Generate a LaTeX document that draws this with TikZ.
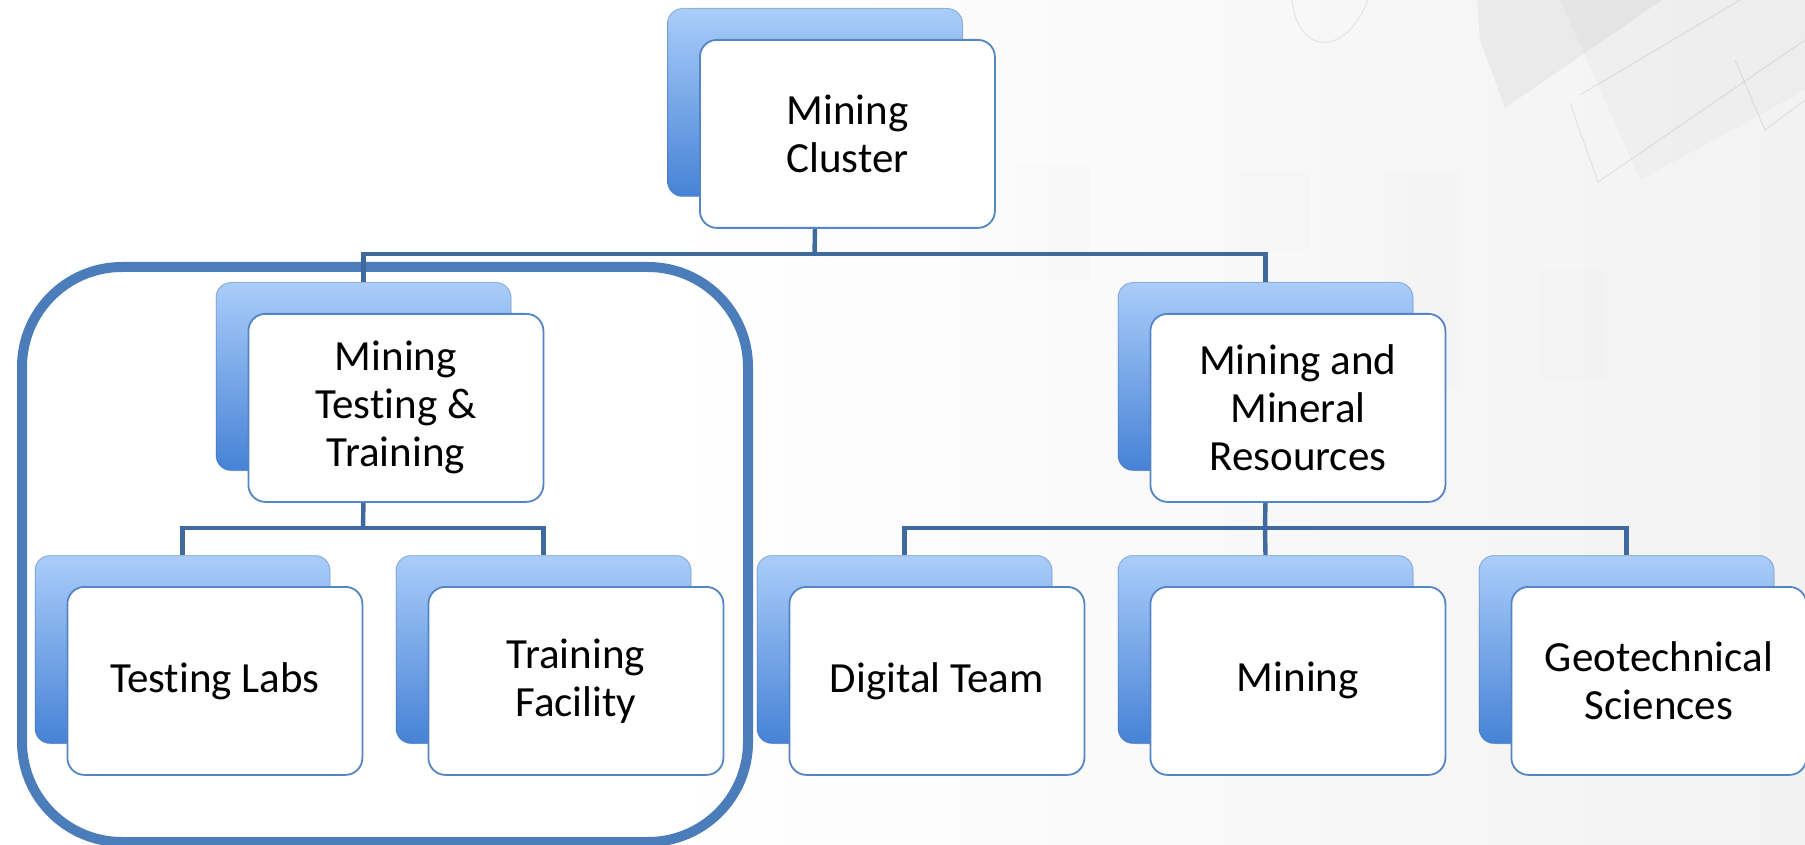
\documentclass[tikz,border=0pt]{standalone}
\usepackage{fontspec}
\setmainfont{Carlito}[Ligatures=NoCommon]

\definecolor{connblue}{RGB}{63,106,160}
\definecolor{frameblue}{RGB}{74,125,186}
\definecolor{edgeblue}{RGB}{84,133,196}
\definecolor{backtop}{RGB}{170,205,250}
\definecolor{backbot}{RGB}{70,130,214}
\definecolor{bggray}{RGB}{242,242,242}

\tikzset{
  backbox/.style={rounded corners=7.5pt, top color=backtop, bottom color=backbot,
    draw=backbot!70!black, draw opacity=0.35, line width=0.5pt,
    minimum width=147.5pt, minimum height=94pt, inner sep=0pt, anchor=north west},
  unitbox/.style={rounded corners=8.5pt, fill=white, draw=edgeblue, line width=0.9pt,
    minimum width=147.5pt, minimum height=94pt, inner sep=0pt, align=center,
    anchor=north west, font=\fontsize{21.5pt}{24pt}\selectfont},
  conn/.style={draw=connblue, line width=2.2pt},
  groupframe/.style={draw=frameblue, line width=5pt, rounded corners=50pt,
    minimum width=363pt, minimum height=287.5pt, inner sep=0pt, anchor=north west},
  faint/.style={draw=black, draw opacity=0.07, line width=0.6pt},
}

\begin{document}
\begin{tikzpicture}[x=0.5pt,y=-0.5pt]
\useasboundingbox (0,0) rectangle (1805,845);

% page background: white on the left, fading to light grey with a faded photo on the right
\fill[white] (0,0) rectangle (1805,845);
\fill[left color=white, right color=bggray] (650,0) rectangle (1805,845);
\fill[black, opacity=0.045] (1477,0) -- (1662,0) -- (1505,108) -- (1480,40) -- cycle;
\fill[black, opacity=0.018] (1560,0) -- (1805,0) -- (1805,90) -- (1640,180) -- cycle;
\fill[black, opacity=0.008] (1015,165) rectangle (1090,280);
\fill[black, opacity=0.008] (1240,170) rectangle (1310,250);
\fill[black, opacity=0.008] (1385,170) rectangle (1460,390);
\fill[black, opacity=0.006] (1540,270) rectangle (1605,380);
\draw[faint] (1292,0) .. controls (1298,55) and (1345,58) .. (1368,0);
\draw[faint] (1570,103) -- (1598,182) -- (1805,40);
\draw[faint] (1580,95) -- (1740,0);
\draw[faint] (1735,60) -- (1765,130) -- (1805,100);

% grouping frame round the testing and training unit
\node[groupframe] (grp) at (17,262) {};

% junction points of the connectors
\coordinate (j1) at (814.5,254);
\coordinate (j2) at (363,528);
\coordinate (j3) at (1265,528);

% back plates
\node[backbox] (top-bk)  at (667,8) {};
\node[backbox] (mtt-bk)  at (215.5,282) {};
\node[backbox] (mmr-bk)  at (1117.5,282) {};
\node[backbox] (labs-bk) at (34.5,555) {};
\node[backbox] (fac-bk)  at (395.5,555) {};
\node[backbox] (dig-bk)  at (756.5,555) {};
\node[backbox] (min-bk)  at (1117.5,555) {};
\node[backbox] (geo-bk)  at (1478.5,555) {};

% connectors
\draw[conn] (top-bk.south |- 0,227) -- (j1);
\draw[conn] (mtt-bk.north) |- (j1) -| (mmr-bk.north);
\draw[conn] (mtt-bk.south |- 0,500) -- (j2);
\draw[conn] (labs-bk.north) |- (j2) -| (fac-bk.north);
\draw[conn] (mmr-bk.south |- 0,500) -- (j3);
\draw[conn] (dig-bk.north) |- (j3) -| (geo-bk.north);
\draw[conn] (j3) -- (min-bk.north);

% front cards with the unit names
\node[unitbox] (top)  at (699,39)     {Mining\\Cluster};
\node[unitbox] (mtt)  at (247.5,313)  {Mining\\Testing \&\\Training};
\node[unitbox] (mmr)  at (1149.5,313) {Mining and\\Mineral\\Resources};
\node[unitbox] (labs) at (66.5,586)   {Testing Labs};
\node[unitbox] (fac)  at (427.5,586)  {Training\\Facility};
\node[unitbox] (dig)  at (788.5,586)  {Digital Team};
\node[unitbox] (min)  at (1149.5,586) {Mining};
\node[unitbox] (geo)  at (1510.5,586) {Geotechnical\\Sciences};
\end{tikzpicture}
\end{document}
